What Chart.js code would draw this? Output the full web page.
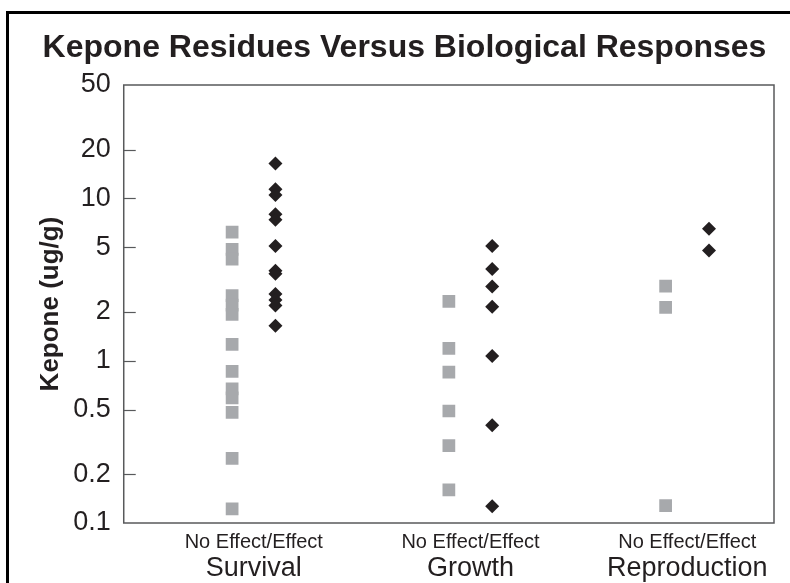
<!DOCTYPE html>
<html>
<head>
<meta charset="utf-8">
<script src="https://cdn.jsdelivr.net/npm/chart.js@4.4.1/dist/chart.umd.min.js"></script>
<style>
  html, body { margin: 0; padding: 0; background: #fff; }
  #wrap { position: relative; width: 790px; height: 583px; overflow: hidden; }
  #frame { position: absolute; left: 6px; top: 11px; width: 900px; height: 700px;
           border-left: 3px solid #000; border-top: 3px solid #000; }
  canvas { position: absolute; left: 0; top: 0; }
</style>
</head>
<body>
<div id="wrap">
  <div id="frame"></div>
  <canvas id="chart" width="790" height="583"></canvas>
</div>
<script>
// categorias e rótulos
const groups = ['Survival', 'Growth', 'Reproduction'];
const subLabel = 'No Effect/Effect';
const yTicks = [0.1, 0.2, 0.5, 1, 2, 5, 10, 20, 50];

// Kepone (ug/g)
const survivalNoEffect = [6.2, 4.85, 4.23, 2.52, 2.2, 1.93, 1.26, 0.86, 0.67, 0.59, 0.48, 0.25, 0.122];
const survivalEffect = [16.4, 11.4, 10.5, 8.0, 7.4, 5.1, 3.58, 3.43, 2.58, 2.37, 2.19, 1.64];
const growthNoEffect = [2.32, 1.19, 0.85, 0.49, 0.30, 0.16];
const growthEffect = [5.1, 3.67, 2.87, 2.15, 1.07, 0.40, 0.127];
const reproNoEffect = [2.88, 2.13, 0.128];
const reproEffect = [6.5, 4.77];

const noEffectSets = [survivalNoEffect, growthNoEffect, reproNoEffect];
const effectSets = [survivalEffect, growthEffect, reproEffect];

const FONT = "'Liberation Sans', Arial, sans-serif";
const TEXT = '#231f20';

function toPoints(sets, offset) {
    const pts = [];
    sets.forEach((vals, i) => {
        vals.forEach(v => pts.push({ x: i + 1 + offset, y: v }));
    });
    return pts;
}

// moldura da área do gráfico, marcas para dentro no eixo y e nomes dos grupos
const framePlugin = {
    id: 'framePlugin',
    afterDraw(chart) {
        const { ctx, chartArea } = chart;
        const x = chart.scales.x;
        const y = chart.scales.y;
        ctx.save();
        ctx.strokeStyle = '#58595b';
        ctx.lineWidth = 1.5;
        ctx.strokeRect(chartArea.left, chartArea.top, chartArea.right - chartArea.left, chartArea.bottom - chartArea.top);
        ctx.lineWidth = 1.2;
        yTicks.slice(1, -1).forEach(v => {
            const py = Math.round(y.getPixelForValue(v)) + 0.5;
            ctx.beginPath();
            ctx.moveTo(chartArea.left, py);
            ctx.lineTo(chartArea.left + 12, py);
            ctx.stroke();
        });
        // segunda linha do eixo x (nome do grupo)
        ctx.fillStyle = TEXT;
        ctx.font = '27px ' + FONT;
        ctx.textAlign = 'center';
        ctx.textBaseline = 'middle';
        groups.forEach((g, i) => {
            ctx.fillText(g, x.getPixelForValue(i + 1), chartArea.bottom + 46);
        });
        ctx.restore();
    }
};

new Chart(document.getElementById('chart').getContext('2d'), {
    type: 'scatter',
    data: {
        datasets: [
            {
                label: 'No Effect',
                data: toPoints(noEffectSets, -0.1),
                pointStyle: 'rect',
                pointRadius: 9,
                pointBackgroundColor: '#a7a9ac',
                pointBorderWidth: 0
            },
            {
                label: 'Effect',
                data: toPoints(effectSets, 0.1),
                pointStyle: 'rectRot',
                pointRadius: 7,
                pointBackgroundColor: '#231f20',
                pointBorderWidth: 0
            }
        ]
    },
    options: {
        responsive: false,
        animation: false,
        layout: { padding: { left: 35, right: 16, top: 0, bottom: 22 } },
        plugins: {
            legend: { display: false },
            tooltip: { enabled: false },
            title: {
                display: true,
                text: 'Kepone Residues Versus Biological Responses',
                color: TEXT,
                font: { family: FONT, size: 32, weight: 'bold' },
                padding: { top: 29, bottom: 17.6 }
            }
        },
        scales: {
            x: {
                type: 'linear',
                position: 'bottom',
                min: 0.4,
                max: 3.4,
                afterBuildTicks: (scale) => { scale.ticks = groups.map((g, i) => ({ value: i + 1 })); },
                ticks: {
                    callback: () => subLabel,
                    color: TEXT,
                    font: { family: FONT, size: 20 },
                    padding: 7,
                    maxRotation: 0,
                    autoSkip: false
                },
                grid: { display: false, drawTicks: false },
                border: { display: false }
            },
            y: {
                type: 'logarithmic',
                min: 0.1,
                max: 50,
                afterBuildTicks: (scale) => { scale.ticks = yTicks.map(v => ({ value: v })); },
                ticks: {
                    callback: (value) => String(value),
                    color: TEXT,
                    font: { family: FONT, size: 27 },
                    padding: 13,
                    autoSkip: false
                },
                grid: { display: false, drawTicks: false },
                border: { display: false },
                title: {
                    display: true,
                    text: 'Kepone (ug/g)',
                    color: TEXT,
                    font: { family: FONT, size: 26, weight: 'bold' },
                    padding: { top: 0, bottom: -6 }
                }
            }
        }
    },
    plugins: [framePlugin]
});
</script>
</body>
</html>
